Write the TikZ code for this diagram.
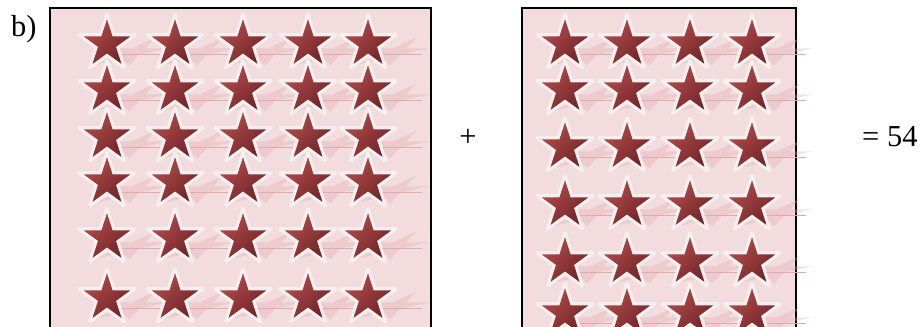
\documentclass[tikz,border=0pt]{standalone}
\usepackage{fontspec}
\setmainfont{Liberation Serif}
\usepackage{xcolor}
\usepackage{tikz}
\usetikzlibrary{shapes.geometric}
\definecolor{clrPanel}{HTML}{F2DCDD}
\definecolor{clrStarLight}{HTML}{B84F4E}
\definecolor{clrStarDark}{HTML}{6A2124}
\definecolor{clrStarEdge}{HTML}{F5EFEF}
\definecolor{clrShadow}{HTML}{E2AAB0}
\tikzset{
  panel/.style={draw=black, line width=1.4pt, fill=clrPanel},
  star base/.style={star, star points=5, star point ratio=2.618, inner sep=0pt, minimum size=1.8cm},
  star body/.style={star base, draw=clrStarEdge, line width=2.6pt, miter limit=2.6, top color=clrStarLight, bottom color=clrStarDark, shading angle=45},
  star shadow/.style={star base, fill=clrShadow, opacity=.35, transform shape},
  shadow line/.style={draw=clrShadow, line width=0.7pt},
  label text/.style={font=\fontsize{26}{30}\selectfont, inner sep=0pt},
}

\begin{document}
\begin{tikzpicture}[x=0.03cm, y=-0.03cm]
  \useasboundingbox (0,0) rectangle (923,326);
  \clip (0,0) rectangle (923,326);

  % Panels
  \draw[panel] (50,8) rectangle (431,340);
  \draw[panel] (522,8) rectangle (796,340);

  % Left stars, 6 x 5
  \foreach \y [count=\r] in {44,90,137,182,238,298} {
    \foreach \x [count=\c] in {107,175,243,308,368} {
      \begin{scope}[shift={(\x+24,\y+9)}, yscale=.5, xslant=.8]
        \node[star shadow] (Lsh-\r-\c) {};
      \end{scope}
      \draw[shadow line] (\x+14,\y+10) -- ++(40,0);
      \node[star body] (L-\r-\c) at (\x,\y) {};
    }
  }

  % Right stars, 6 x 4
  \foreach \y [count=\r] in {44,90,147,205,262,313} {
    \foreach \x [count=\c] in {565,627,690,752} {
      \begin{scope}[shift={(\x+24,\y+9)}, yscale=.5, xslant=.8]
        \node[star shadow] (Rsh-\r-\c) {};
      \end{scope}
      \draw[shadow line] (\x+14,\y+10) -- ++(40,0);
      \node[star body] (R-\r-\c) at (\x,\y) {};
    }
  }

  % Labels
  \node[label text, anchor=base west] (part) at (11,36) {b)};
  \node[label text, anchor=base] (plus) at (468,146) {+};
  \node[label text, anchor=base west] (total) at (862,146) {= 54};
\end{tikzpicture}
\end{document}
